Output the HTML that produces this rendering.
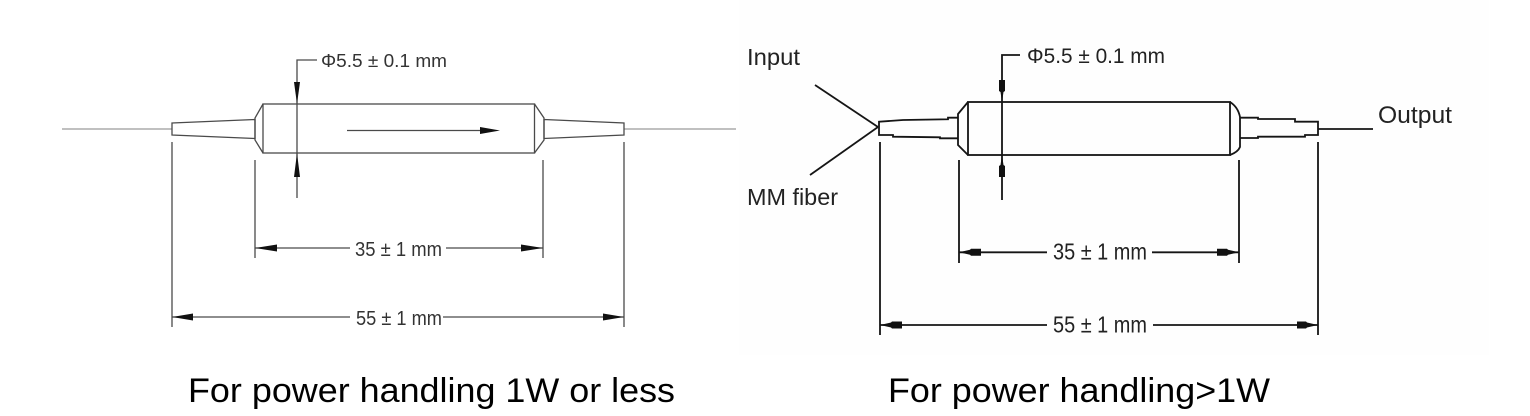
<!DOCTYPE html>
<html>
<head>
<meta charset="utf-8">
<style>
html,body{margin:0;padding:0;background:#fff;}
svg{display:block;}
text{font-family:"Liberation Sans",Arial,sans-serif;}
</style>
</head>
<body>
<svg width="1530" height="416" viewBox="0 0 1530 416" xmlns="http://www.w3.org/2000/svg">
<rect x="0" y="0" width="1530" height="416" fill="#fff"/>
<rect x="739" y="0" width="750" height="355" fill="#fefefe"/>

<!-- ============ LEFT FIGURE ============ -->
<g stroke="#4a4a4a" stroke-width="1.3" fill="none">
  <line x1="62" y1="129" x2="172" y2="129" stroke="#808080" stroke-width="1.1"/>
  <line x1="624" y1="129" x2="736" y2="129" stroke="#808080" stroke-width="1.1"/>
  <polygon points="172,123 255,119.5 255,138.5 172,135"/>
  <polyline points="263,104 255,118 255,140 263,153"/>
  <rect x="263" y="104" width="271.5" height="49"/>
  <polyline points="534.5,104 544,118 544,140 534.5,153"/>
  <polygon points="544,119.5 624,123 624,135 544,138.5"/>
  <line x1="347" y1="130.5" x2="484" y2="130.5"/>
  <polyline points="317,60 297,60 297,198"/>
  <line x1="172" y1="142" x2="172" y2="327"/>
  <line x1="255" y1="160" x2="255" y2="258"/>
  <line x1="543" y1="160" x2="543" y2="258"/>
  <line x1="624" y1="142" x2="624" y2="327"/>
  <line x1="255" y1="248" x2="350" y2="248"/>
  <line x1="446" y1="248" x2="543" y2="248"/>
  <line x1="172" y1="317" x2="350" y2="317"/>
  <line x1="443" y1="317" x2="624" y2="317"/>
</g>
<g fill="#111" stroke="none">
  <polygon points="480,127 500,130.5 480,134"/>
  <polygon points="294,82 300,82 297,104"/>
  <polygon points="294,177 300,177 297,153"/>
  <polygon points="255,248 277,244.5 277,251.5"/>
  <polygon points="543,248 521,244.5 521,251.5"/>
  <polygon points="172,317 193,313.5 193,320.5"/>
  <polygon points="624,317 603,313.5 603,320.5"/>
</g>
<g fill="#333">
  <text x="321" y="67" font-size="18.5" textLength="126" lengthAdjust="spacingAndGlyphs">Φ5.5 ± 0.1 mm</text>
  <text x="355" y="256" font-size="20" textLength="87" lengthAdjust="spacingAndGlyphs">35 ± 1 mm</text>
  <text x="356" y="325" font-size="20" textLength="86" lengthAdjust="spacingAndGlyphs">55 ± 1 mm</text>
</g>

<!-- ============ RIGHT FIGURE ============ -->
<g stroke="#151515" stroke-width="1.8" fill="none">
  <line x1="815" y1="85" x2="878" y2="127"/>
  <line x1="810" y1="175" x2="878" y2="127"/>
  <polyline points="958,117.7 948,117.7 948,119.3 903,120 879,121.7 879,135 893,135 893,136.7 940,137.3 940,138.3 958,138.3"/>
  <polyline points="968,102 958,114 958,145 968,155"/>
  <rect x="968" y="102" width="262" height="53"/>
  <path d="M1230,102 Q1238,107 1240,117 L1240,147 Q1238,152 1230,155"/>
  <polyline points="1240,117.7 1258,117.7 1258,119 1295,119 1295,121.7 1318,121.7 1318,135 1305,135 1305,136.7 1258,136.7 1258,138 1240,138"/>
  <line x1="1318" y1="129" x2="1373" y2="129"/>
  <polyline points="1020,55 1002,55 1002,200"/>
  <line x1="880" y1="142" x2="880" y2="335"/>
  <line x1="959" y1="160" x2="959" y2="263"/>
  <line x1="1239" y1="160" x2="1239" y2="263"/>
  <line x1="1318" y1="142" x2="1318" y2="335"/>
  <line x1="959" y1="252.3" x2="1047" y2="252.3"/>
  <line x1="1152" y1="252.3" x2="1239" y2="252.3"/>
  <line x1="880" y1="325" x2="1047" y2="325"/>
  <line x1="1153" y1="325" x2="1318" y2="325"/>
</g>
<g fill="#111" stroke="none">
  <polygon points="999,80 1005,80 1005,91 1003.5,92 1002,102 1000.5,92 999,91"/>
  <polygon points="999,177 1005,177 1005,166 1003.5,165 1002,155 1000.5,165 999,166"/>
  <polygon points="959,252.3 970,249.8 971,248.8 981,248.8 981,255.8 971,255.8 970,254.8"/>
  <polygon points="1239,252.3 1228,249.8 1227,248.8 1217,248.8 1217,255.8 1227,255.8 1228,254.8"/>
  <polygon points="880,325 891,322.5 892,321.5 902,321.5 902,328.5 892,328.5 891,327.5"/>
  <polygon points="1318,325 1307,322.5 1306,321.5 1297,321.5 1297,328.5 1306,328.5 1307,327.5"/>
</g>
<g fill="#222">
  <text x="747" y="65" font-size="23" textLength="53" lengthAdjust="spacingAndGlyphs">Input</text>
  <text x="747" y="205" font-size="23" textLength="91" lengthAdjust="spacingAndGlyphs">MM fiber</text>
  <text x="1378" y="123" font-size="24" textLength="74" lengthAdjust="spacingAndGlyphs">Output</text>
  <text x="1027" y="63" font-size="21" textLength="138" lengthAdjust="spacingAndGlyphs">Φ5.5 ± 0.1 mm</text>
  <text x="1053" y="259.5" font-size="23" textLength="94" lengthAdjust="spacingAndGlyphs">35 ± 1 mm</text>
  <text x="1053" y="332.5" font-size="23" textLength="94" lengthAdjust="spacingAndGlyphs">55 ± 1 mm</text>
</g>

<!-- ============ CAPTIONS ============ -->
<g fill="#000">
  <text x="188" y="402" font-size="34" textLength="487" lengthAdjust="spacingAndGlyphs">For power handling 1W or less</text>
  <text x="888" y="402" font-size="34" textLength="382" lengthAdjust="spacingAndGlyphs">For power handling&gt;1W</text>
</g>
</svg>
</body>
</html>
